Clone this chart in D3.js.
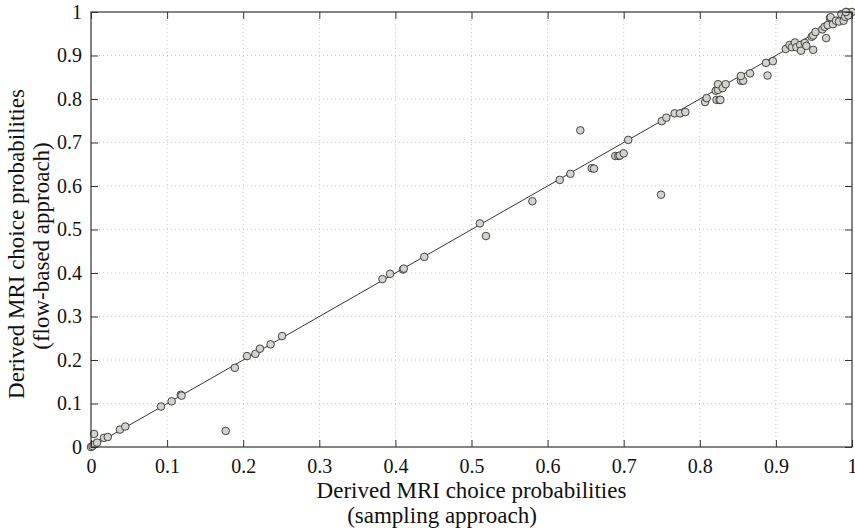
<!DOCTYPE html>
<html>
<head>
<meta charset="utf-8">
<script src="https://cdn.jsdelivr.net/npm/d3@7"></script>
<style>
  body { margin: 0; background: #fff; }
  svg text { font-family: "Liberation Serif", "Times New Roman", serif; }
</style>
</head>
<body>
<svg></svg>
<script>
// sampling approach (x) vs flow-based approach (y)
let samplingVals = [0, 0.002, 0.004, 0.005, 0.008, 0.017, 0.022, 0.038, 0.045, 0.092, 0.106, 0.118, 0.119,
  0.177, 0.189, 0.205, 0.216, 0.222, 0.236, 0.251,
  0.383, 0.393, 0.410, 0.411, 0.438, 0.511, 0.519, 0.580,
  0.616, 0.630, 0.643, 0.658, 0.661, 0.689, 0.693, 0.695, 0.700, 0.706, 0.749, 0.750, 0.756, 0.767, 0.774, 0.781,
  0.807, 0.809, 0.821, 0.824, 0.824, 0.822, 0.826, 0.827, 0.830, 0.834, 0.854, 0.857, 0.854, 0.866, 0.889, 0.887, 0.896,
  0.913, 0.918, 0.921, 0.925, 0.927, 0.932, 0.933, 0.938, 0.940, 0.949, 0.947, 0.949, 0.952, 0.961, 0.964, 0.966,
  0.968, 0.971, 0.972, 0.975, 0.979, 0.983, 0.986, 0.989, 0.991, 0.993, 0.996, 1.0, 0.995, 0.992]
let flowVals = [0, 0.002, 0.030, 0.006, 0.010, 0.021, 0.023, 0.040, 0.047, 0.093, 0.105, 0.120, 0.118,
  0.037, 0.182, 0.209, 0.214, 0.226, 0.236, 0.255,
  0.386, 0.398, 0.408, 0.410, 0.437, 0.514, 0.485, 0.565,
  0.614, 0.628, 0.728, 0.641, 0.640, 0.669, 0.669, 0.670, 0.675, 0.706, 0.580, 0.749, 0.757, 0.767, 0.767, 0.770,
  0.793, 0.802, 0.819, 0.821, 0.834, 0.798, 0.798, 0.798, 0.825, 0.834, 0.842, 0.842, 0.853, 0.859, 0.854, 0.883, 0.887,
  0.915, 0.924, 0.919, 0.930, 0.919, 0.924, 0.911, 0.929, 0.922, 0.913, 0.943, 0.946, 0.954, 0.960, 0.966, 0.940,
  0.970, 0.986, 0.988, 0.972, 0.980, 0.978, 0.995, 0.980, 0.989, 1.0, 0.995, 1.0, 0.992, 1.0]

let tickVals = [0, 0.1, 0.2, 0.3, 0.4, 0.5, 0.6, 0.7, 0.8, 0.9, 1]
let tickLabels = ['0', '0.1', '0.2', '0.3', '0.4', '0.5', '0.6', '0.7', '0.8', '0.9', '1']
let xLabelLines = ['Derived MRI choice probabilities', '(sampling approach)']
let yLabelLines = ['Derived MRI choice probabilities', '(flow-based approach)']

let width = 855
let height = 530
let padLeft = 91, padRight = 852, padTop = 12, padBottom = 447
let serif = '"Liberation Serif", "Times New Roman", serif'

let svg = d3.select('svg').attr('width', width).attr('height', height)

let xScale = d3.scaleLinear().domain([0, 1]).range([padLeft, padRight])
let yScale = d3.scaleLinear().domain([0, 1]).range([padBottom, padTop])

let fmt = (d) => tickLabels[tickVals.indexOf(d)]

let makeGrid = () => {
  let g = svg.append('g').attr('class', 'grid')
  g.selectAll('line.gx')
   .data(tickVals.slice(1, -1))
   .enter().append('line')
   .attr('class', 'gx')
   .attr('x1', (d) => xScale(d)).attr('x2', (d) => xScale(d))
   .attr('y1', padTop).attr('y2', padBottom)
  g.selectAll('line.gy')
   .data(tickVals.slice(1, -1))
   .enter().append('line')
   .attr('class', 'gy')
   .attr('y1', (d) => yScale(d)).attr('y2', (d) => yScale(d))
   .attr('x1', padLeft).attr('x2', padRight)
  g.selectAll('line')
   .attr('stroke', '#c8c8c8')
   .attr('stroke-width', 1)
   .attr('stroke-dasharray', '1,3')
}

let makeAxis = () => {
  let tickStyle = (g) => {
    g.attr('font-family', serif).attr('font-size', 20)
    g.select('.domain').remove()
    g.selectAll('.tick line').attr('stroke', '#333')
    g.selectAll('.tick text').attr('fill', '#111')
  }
  svg.append('g')
     .attr('transform', 'translate(0,' + padBottom + ')')
     .call(d3.axisBottom(xScale).tickValues(tickVals).tickFormat(fmt).tickSizeInner(-7).tickPadding(12))
     .call(tickStyle)
  svg.append('g')
     .attr('transform', 'translate(0,' + padTop + ')')
     .call(d3.axisTop(xScale).tickValues(tickVals).tickFormat('').tickSizeInner(-7))
     .call(tickStyle)
  svg.append('g')
     .attr('transform', 'translate(' + padLeft + ',0)')
     .call(d3.axisLeft(yScale).tickValues(tickVals).tickFormat(fmt).tickSizeInner(-7).tickPadding(9))
     .call(tickStyle)
  svg.append('g')
     .attr('transform', 'translate(' + padRight + ',0)')
     .call(d3.axisRight(yScale).tickValues(tickVals).tickFormat('').tickSizeInner(-7))
     .call(tickStyle)

  svg.append('rect')
     .attr('x', padLeft).attr('y', padTop)
     .attr('width', padRight - padLeft).attr('height', padBottom - padTop)
     .attr('fill', 'none')
     .attr('stroke', '#333')
     .attr('stroke-width', 1.2)
}

let makeLabels = () => {
  let lab = (sel) => sel.attr('text-anchor', 'middle')
                        .attr('font-family', serif)
                        .attr('font-size', 23)
                        .attr('fill', '#111')
  svg.append('text')
     .attr('x', (padLeft + padRight) / 2).attr('y', 498)
     .call(lab)
     .text(xLabelLines[0])
  svg.append('text')
     .attr('x', 442).attr('y', 523)
     .call(lab)
     .text(xLabelLines[1])
  svg.append('text')
     .attr('transform', 'translate(24,244) rotate(-90)')
     .call(lab)
     .text(yLabelLines[0])
  svg.append('text')
     .attr('transform', 'translate(49,246) rotate(-90)')
     .call(lab)
     .text(yLabelLines[1])
}

let makeLine = () => {
  svg.append('line')
     .attr('x1', xScale(0)).attr('y1', yScale(0))
     .attr('x2', xScale(1)).attr('y2', yScale(1))
     .attr('stroke', '#333')
     .attr('stroke-width', 1)
}

let makePoints = () => {
  let pts = samplingVals.map((d, i) => [d, flowVals[i]])
  svg.append('g')
     .selectAll('circle')
     .data(pts)
     .enter()
     .append('circle')
     .attr('cx', (d) => xScale(d[0]))
     .attr('cy', (d) => yScale(d[1]))
     .attr('r', 3.8)
     .attr('fill', '#d3d2cc')
     .attr('stroke', '#333')
     .attr('stroke-width', 0.9)
}

makeGrid()
makeLine()
makePoints()
makeAxis()
makeLabels()
</script>
</body>
</html>
